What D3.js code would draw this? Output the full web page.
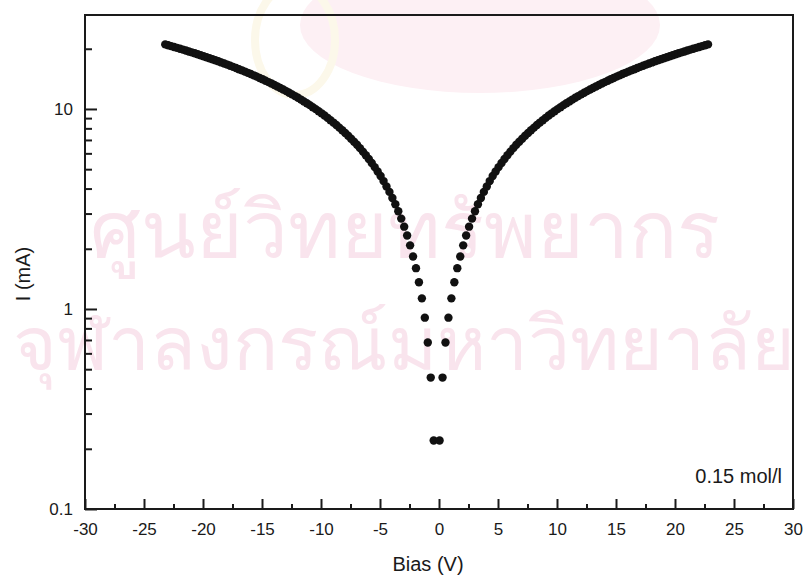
<!DOCTYPE html>
<html>
<head>
<meta charset="utf-8">
<script src="https://cdn.jsdelivr.net/npm/d3@7"></script>
<style>
  body { margin: 0; background: #fff; }
  text { font-family: Helvetica, Arial, "Liberation Sans", sans-serif; fill: #1a1a1a; }
</style>
</head>
<body>
<div id="chart"></div>
<script>
let width = 808
let height = 580
let margin = {left: 85, right: 15, top: 15, bottom: 71}

// bias values (V) of the dots on each branch
let biasNeg = [-0.45,-0.7,-0.95,-1.2,-1.45,-1.7,-1.95,-2.2,-2.45,-2.7,
  -2.95,-3.2,-3.45,-3.7,-3.95,-4.2,-4.45,-4.7,-4.95,-5.2,
  -5.45,-5.7,-5.95,-6.2,-6.45,-6.7,-6.95,-7.2,-7.45,-7.7,
  -7.95,-8.2,-8.45,-8.7,-8.95,-9.2,-9.45,-9.7,-9.95,-10.2,
  -10.45,-10.7,-10.95,-11.2,-11.45,-11.7,-11.95,-12.2,-12.45,-12.7,
  -12.95,-13.2,-13.45,-13.7,-13.95,-14.2,-14.45,-14.7,-14.95,-15.2,
  -15.45,-15.7,-15.95,-16.2,-16.45,-16.7,-16.95,-17.2,-17.45,-17.7,
  -17.95,-18.2,-18.45,-18.7,-18.95,-19.2,-19.45,-19.7,-19.95,-20.2,
  -20.45,-20.7,-20.95,-21.2,-21.45,-21.7,-21.95,-22.2,-22.45,-22.7,
  -22.95,-23.2]
let biasPos = [0.05,0.3,0.55,0.8,1.05,1.3,1.55,1.8,2.05,2.3,
  2.55,2.8,3.05,3.3,3.55,3.8,4.05,4.3,4.55,4.8,
  5.05,5.3,5.55,5.8,6.05,6.3,6.55,6.8,7.05,7.3,
  7.55,7.8,8.05,8.3,8.55,8.8,9.05,9.3,9.55,9.8,
  10.05,10.3,10.55,10.8,11.05,11.3,11.55,11.8,12.05,12.3,
  12.55,12.8,13.05,13.3,13.55,13.8,14.05,14.3,14.55,14.8,
  15.05,15.3,15.55,15.8,16.05,16.3,16.55,16.8,17.05,17.3,
  17.55,17.8,18.05,18.3,18.55,18.8,19.05,19.3,19.55,19.8,
  20.05,20.3,20.55,20.8,21.05,21.3,21.55,21.8,22.05,22.3,
  22.55,22.8]
// current (mA)
let currentNeg = [0.22,0.454,0.68,0.905,1.13,1.36,1.6,1.83,2.08,2.33,
  2.58,2.83,3.08,3.34,3.59,3.85,4.10,4.36,4.62,4.87,
  5.12,5.37,5.62,5.87,6.12,6.37,6.62,6.86,7.10,7.35,
  7.59,7.83,8.07,8.31,8.55,8.79,9.03,9.27,9.51,9.74,
  9.98,10.21,10.45,10.68,10.91,11.14,11.37,11.60,11.83,12.06,
  12.28,12.51,12.73,12.96,13.18,13.40,13.62,13.85,14.07,14.29,
  14.51,14.73,14.95,15.16,15.38,15.60,15.81,16.03,16.24,16.46,
  16.67,16.88,17.09,17.31,17.52,17.73,17.94,18.15,18.36,18.56,
  18.77,18.98,19.18,19.39,19.60,19.80,20.01,20.21,20.42,20.62,
  20.82,21.03]
let currentPos = [0.22,0.454,0.68,0.905,1.13,1.36,1.6,1.83,2.08,2.33,
  2.58,2.83,3.08,3.34,3.59,3.85,4.10,4.36,4.62,4.87,
  5.12,5.37,5.62,5.87,6.12,6.37,6.62,6.86,7.10,7.35,
  7.59,7.83,8.07,8.31,8.55,8.79,9.03,9.27,9.51,9.74,
  9.98,10.21,10.45,10.68,10.91,11.14,11.37,11.60,11.83,12.06,
  12.28,12.51,12.73,12.96,13.18,13.40,13.62,13.85,14.07,14.29,
  14.51,14.73,14.95,15.16,15.38,15.60,15.81,16.03,16.24,16.46,
  16.67,16.88,17.09,17.31,17.52,17.73,17.94,18.15,18.36,18.56,
  18.77,18.98,19.18,19.39,19.60,19.80,20.01,20.21,20.42,20.62,
  20.82,21.03]

let xMajorTicks = [-30,-25,-20,-15,-10,-5,0,5,10,15,20,25,30]
let xMinorTicks = [-27.5,-22.5,-17.5,-12.5,-7.5,-2.5,2.5,7.5,12.5,17.5,22.5,27.5]
let yMajorTicks = [0.1, 1, 10]
let yMinorTicks = [0.2,0.3,0.4,0.5,0.6,0.7,0.8,0.9,2,3,4,5,6,7,8,9,20]

let svg = d3.select('#chart').append('svg')
  .attr('width', width)
  .attr('height', height)

// faint watermark in the background
let wm = svg.append('g').style('pointer-events', 'none')
wm.append('ellipse')
  .attr('cx', 480).attr('cy', 25).attr('rx', 180).attr('ry', 68)
  .style('fill', '#fdf0f4')
wm.append('ellipse')
  .attr('cx', 295).attr('cy', 40).attr('rx', 40).attr('ry', 55)
  .style('fill', 'none').style('stroke', '#fcf8ea').style('stroke-width', 8)
wm.append('text')
  .attr('x', 405).attr('y', 258)
  .attr('text-anchor', 'middle')
  .style('font-size', '80px')
  .style('fill', '#f9e4ed')
  .text('ศูนย์วิทยทรัพยากร')
wm.append('text')
  .attr('x', 404).attr('y', 370)
  .attr('text-anchor', 'middle')
  .style('font-size', '75px')
  .style('fill', '#f9e4ed')
  .text('จุฬาลงกรณ์มหาวิทยาลัย')

let xScale = d3.scaleLinear()
  .domain([-30, 30])
  .range([margin.left, width - margin.right])
let yScale = d3.scaleLog()
  .domain([0.1, 29.5])
  .range([height - margin.bottom, margin.top])

// -- X axis (ticks pointing in)
svg.append('g')
  .attr('transform', `translate(0, ${height - margin.bottom})`)
  .call(d3.axisBottom(xScale).tickValues(xMinorTicks).tickSize(-5).tickSizeOuter(0).tickFormat(''))
  .call(g => g.select('.domain').remove())
svg.append('g')
  .attr('id', 'x-axis')
  .attr('transform', `translate(0, ${height - margin.bottom})`)
  .call(d3.axisBottom(xScale).tickValues(xMajorTicks).tickSize(-10).tickSizeOuter(0)
    .tickPadding(14).tickFormat(d => String(d)))
  .call(g => g.select('.domain').remove())
  .selectAll('text').style('font-size', '17px')

// -- Y axis
svg.append('g')
  .attr('transform', `translate(${margin.left}, 0)`)
  .call(d3.axisLeft(yScale).tickValues(yMinorTicks).tickSize(-7).tickSizeOuter(0).tickFormat(''))
  .call(g => g.select('.domain').remove())
svg.append('g')
  .attr('id', 'y-axis')
  .attr('transform', `translate(${margin.left}, 0)`)
  .call(d3.axisLeft(yScale).tickValues(yMajorTicks).tickSize(-12).tickSizeOuter(0)
    .tickPadding(12).tickFormat(d => String(d)))
  .call(g => g.select('.domain').remove())
  .selectAll('text').style('font-size', '17px')

svg.selectAll('.tick line').style('stroke', '#1a1a1a').style('stroke-width', 2)

// frame
svg.append('rect')
  .attr('x', margin.left)
  .attr('y', margin.top)
  .attr('width', width - margin.left - margin.right)
  .attr('height', height - margin.top - margin.bottom)
  .style('fill', 'none')
  .style('stroke', '#1a1a1a')
  .style('stroke-width', 2)

// dots
let points = biasNeg.map((v, i) => ({v: v, c: currentNeg[i]}))
  .concat(biasPos.map((v, i) => ({v: v, c: currentPos[i]})))
svg.selectAll('.dot')
  .data(points)
  .enter()
  .append('circle')
  .attr('class', 'dot')
  .attr('r', 4.2)
  .attr('cx', d => xScale(d.v))
  .attr('cy', d => yScale(d.c))
  .style('fill', '#111')

// labels
svg.append('text')
  .attr('x', 428).attr('y', 571)
  .attr('text-anchor', 'middle')
  .style('font-size', '20px')
  .text('Bias (V)')
svg.append('text')
  .attr('transform', 'translate(30, 274) rotate(-90)')
  .attr('text-anchor', 'middle')
  .style('font-size', '20px')
  .text('I (mA)')
svg.append('text')
  .attr('x', 782).attr('y', 483)
  .attr('text-anchor', 'end')
  .style('font-size', '20px')
  .text('0.15 mol/l')
</script>
</body>
</html>
